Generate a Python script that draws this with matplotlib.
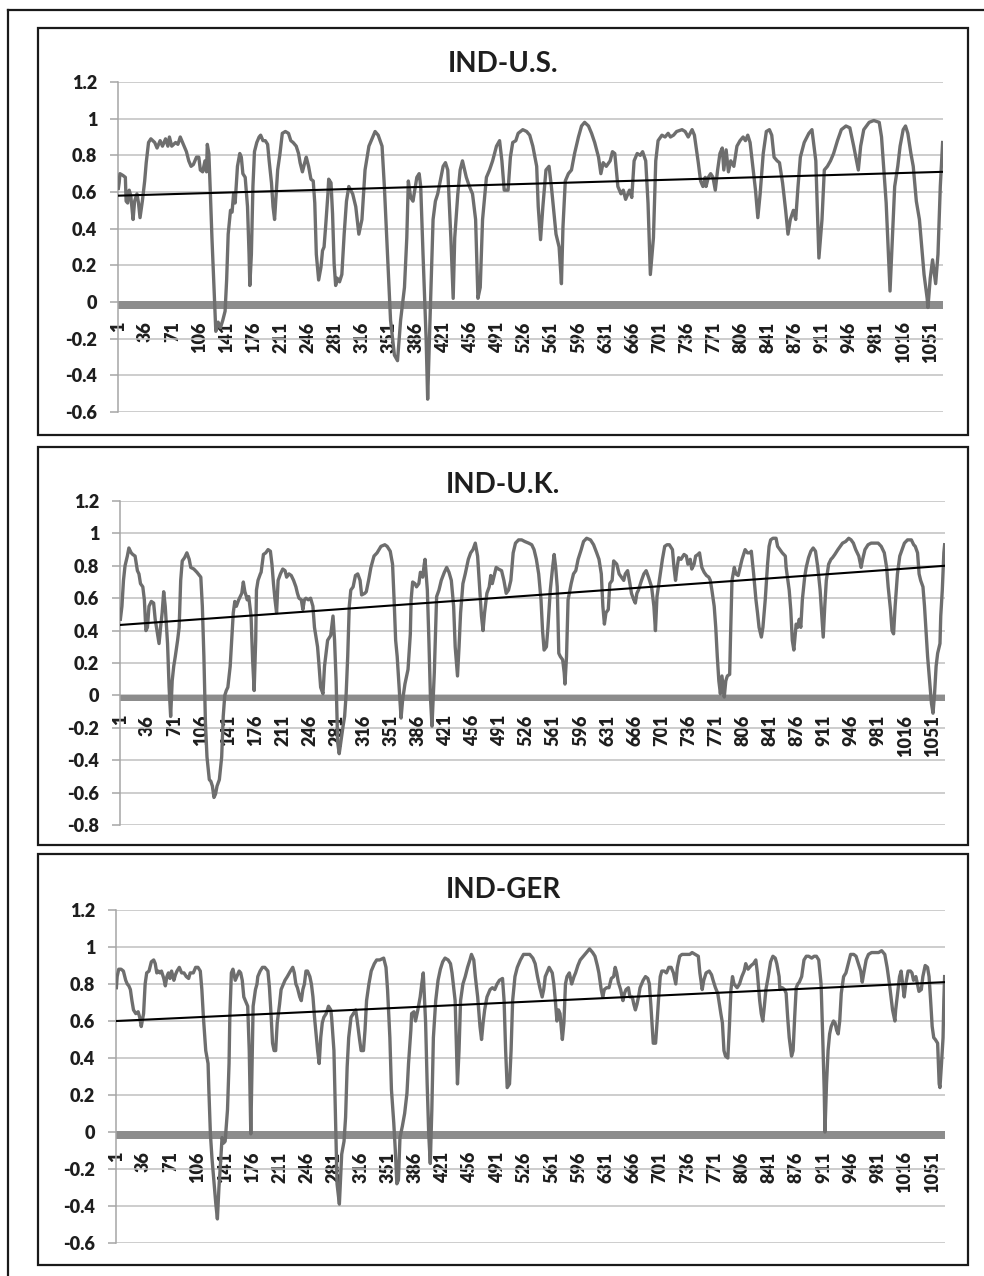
import numpy as np
import matplotlib
matplotlib.use("Agg")
import matplotlib.pyplot as plt
from matplotlib.lines import Line2D
from matplotlib.patches import Rectangle

plt.rcParams['font.family'] = ['Lato', 'DejaVu Sans']
plt.rcParams['axes.unicode_minus'] = False

# ---- data ----------------------------------------------------------------
n_obs = 1067
xtick_labels = [1, 36, 71, 106, 141, 176, 211, 246, 281, 316, 351, 386, 421,
                456, 491, 526, 561, 596, 631, 666, 701, 736, 771, 806, 841,
                876, 911, 946, 981, 1016, 1051]

titles = ["IND-U.S.", "IND-U.K.", "IND-GER"]
y_bottoms = [-0.6, -0.8, -0.6]
trend_start = [0.58, 0.435, 0.60]
trend_end = [0.71, 0.80, 0.81]

us_idx = [1, 2, 3, 7, 10, 11, 13, 15, 17, 20, 22, 25, 27, 29, 32, 35, 37, 40, 43, 48,
          51, 55, 58, 62, 65, 67, 70, 75, 78, 81, 85, 89, 92, 95, 98, 102, 105, 107, 110, 113,
          115, 116, 118, 120, 122, 125, 127, 130, 133, 136, 139, 141, 143, 146, 148, 150, 152, 155, 158, 160,
          162, 165, 168, 170, 171, 173, 175, 177, 180, 183, 185, 188, 191, 194, 196, 199, 201, 203, 205, 207,
          210, 213, 217, 221, 224, 227, 231, 234, 236, 239, 242, 244, 247, 250, 253, 255, 257, 260, 263, 265,
          267, 269, 272, 273, 276, 278, 280, 282, 284, 287, 290, 293, 296, 299,
          304, 308, 312, 316, 320, 325, 328, 333, 337, 342, 345, 349, 353, 358, 362, 366, 371, 374, 376, 379,
          382, 387, 390, 392, 395, 399, 401, 404, 408, 411, 414, 421, 424, 427, 431, 434, 436, 440, 443, 446,
          451, 455, 459, 463, 466, 469, 472, 477, 481, 485, 490, 494, 497, 500, 505, 508, 511, 515, 518, 524,
          529, 533, 537, 542, 544, 547, 550, 554, 558, 561, 567, 571, 574, 576, 579, 583, 587, 591, 596, 600,
          604, 609, 613, 617, 622, 625, 628, 632, 637, 640, 643, 647, 651, 654, 657, 662, 665, 668, 672, 676,
          679, 683, 686, 689,
          693, 696, 699, 704, 708, 712, 715, 719, 723, 730, 734, 738, 743, 746, 748, 751, 754, 757, 760, 761,
          764, 767, 770, 773, 776, 779, 782, 784, 787, 790, 793, 797, 801, 805, 809, 812, 815, 818, 822, 825,
          828, 831, 835, 839, 843, 846, 849, 853, 856, 860, 864, 867, 870, 874, 877, 880, 883, 888, 894, 898,
          903, 907, 911, 914, 918, 922, 926, 931, 936, 942, 947, 952, 958, 961, 965, 972, 978, 985, 988, 991,
          994, 997, 999, 1002, 1005, 1009, 1012, 1016, 1019, 1022, 1026, 1029, 1033, 1037, 1040, 1043, 1047, 1048, 1051, 1054,
          1058, 1061, 1064, 1067]
us_val = [0.62, 0.65, 0.70, 0.69, 0.68, 0.55, 0.54, 0.61, 0.58, 0.45, 0.55, 0.59, 0.54, 0.46, 0.55, 0.66, 0.76, 0.87, 0.89, 0.87,
          0.84, 0.88, 0.85, 0.89, 0.85, 0.90, 0.85, 0.87, 0.86, 0.90, 0.86, 0.82, 0.77, 0.74, 0.75, 0.79, 0.79, 0.72, 0.71, 0.77,
          0.71, 0.86, 0.81, 0.59, 0.35, 0.04, -0.16, -0.11, -0.14, -0.10, -0.05, 0.12, 0.37, 0.50, 0.49, 0.59, 0.54, 0.74, 0.81, 0.79,
          0.70, 0.68, 0.52, 0.26, 0.09, 0.26, 0.63, 0.82, 0.87, 0.90, 0.91, 0.88, 0.88, 0.86, 0.77, 0.65, 0.52, 0.45, 0.59, 0.72,
          0.81, 0.92, 0.93, 0.92, 0.88, 0.87, 0.85, 0.81, 0.76, 0.71, 0.76, 0.79, 0.74, 0.67, 0.66, 0.54, 0.26, 0.12, 0.19, 0.28,
          0.30, 0.41, 0.59, 0.67, 0.65, 0.48, 0.21, 0.09, 0.13, 0.11, 0.15, 0.37, 0.55, 0.63,
          0.59, 0.52, 0.37, 0.45, 0.72, 0.85, 0.88, 0.93, 0.91, 0.85, 0.63, 0.26, -0.10, -0.29, -0.32, -0.10, 0.08, 0.35, 0.66, 0.57,
          0.55, 0.68, 0.70, 0.63, 0.26, -0.20, -0.53, -0.10, 0.45, 0.55, 0.59, 0.74, 0.76, 0.72, 0.35, 0.02, 0.35, 0.59, 0.72, 0.77,
          0.68, 0.63, 0.59, 0.45, 0.02, 0.08, 0.45, 0.68, 0.72, 0.77, 0.85, 0.88, 0.77, 0.61, 0.61, 0.79, 0.87, 0.88, 0.92, 0.94,
          0.93, 0.91, 0.85, 0.74, 0.52, 0.34, 0.52, 0.72, 0.74, 0.63, 0.37, 0.30, 0.10, 0.41, 0.66, 0.70, 0.72, 0.81, 0.90, 0.96,
          0.98, 0.96, 0.92, 0.87, 0.79, 0.70, 0.76, 0.74, 0.77, 0.82, 0.81, 0.63, 0.59, 0.61, 0.56, 0.61, 0.57, 0.77, 0.81, 0.80,
          0.82, 0.77, 0.54, 0.15,
          0.35, 0.77, 0.88, 0.91, 0.90, 0.92, 0.90, 0.91, 0.93, 0.94, 0.93, 0.90, 0.94, 0.91, 0.85, 0.76, 0.66, 0.63, 0.68, 0.63,
          0.68, 0.70, 0.68, 0.61, 0.72, 0.81, 0.84, 0.72, 0.83, 0.71, 0.77, 0.74, 0.85, 0.88, 0.90, 0.88, 0.91, 0.87, 0.72, 0.61,
          0.46, 0.59, 0.81, 0.93, 0.94, 0.91, 0.79, 0.77, 0.76, 0.65, 0.50, 0.37, 0.45, 0.50, 0.45, 0.63, 0.79, 0.87, 0.92, 0.94,
          0.77, 0.24, 0.45, 0.72, 0.74, 0.77, 0.81, 0.88, 0.94, 0.96, 0.95, 0.85, 0.72, 0.85, 0.94, 0.98, 0.99, 0.98, 0.90, 0.72,
          0.54, 0.26, 0.06, 0.35, 0.63, 0.74, 0.85, 0.94, 0.96, 0.92, 0.81, 0.74, 0.55, 0.45, 0.30, 0.15, 0.02, -0.03, 0.13, 0.23,
          0.10, 0.26, 0.63, 0.87]

uk_idx = [1, 3, 5, 7, 10, 12, 15, 17, 20, 23, 25, 27, 30, 32, 34, 36, 38, 41, 44, 46,
          49, 51, 53, 55, 57, 59, 62, 64, 66, 68, 70, 72, 75, 77, 79, 81, 84, 87, 90, 92,
          96, 100, 105, 107, 109, 111, 113, 116, 118, 120, 122, 124, 126, 129, 132, 134, 136, 138, 140, 143,
          145, 147, 149, 151, 154, 156, 158, 160, 162, 164, 165, 167, 170, 172, 174, 176, 177, 179, 182, 183,
          186, 189, 192, 195, 197, 199, 201, 203, 205, 208, 211, 214, 216, 219, 222, 225, 228, 230, 232, 235,
          237, 239, 241, 244, 247, 250, 252, 254, 256, 258, 260, 263, 265, 267, 269, 273, 276, 278, 280, 282,
          284, 286, 289, 291, 293, 295, 297, 299,
          302, 305, 308, 311, 313, 317, 319, 322, 325, 329, 333, 338, 343, 346, 350, 353, 355, 357, 359, 361,
          364, 366, 369, 373, 376, 377, 379, 382, 384, 387, 389, 392, 394, 395, 398, 400, 402, 404, 407, 410,
          413, 416, 420, 423, 426, 429, 432, 434, 437, 439, 441, 444, 447, 451, 454, 457, 460, 463, 465, 468,
          470, 472, 475, 478, 480, 482, 484, 487, 490, 494, 497, 500, 503, 506, 509, 512, 516, 520, 524, 529,
          533, 536, 539, 542, 545, 547, 549, 552, 554, 557, 560, 562, 564, 566, 568, 570, 573, 575, 576, 578,
          580, 584, 587, 590, 593, 597, 600, 604, 609, 613, 617, 620, 623, 625, 627, 629, 632, 634, 637, 639,
          643, 646, 649, 652, 654, 657, 660, 662, 665, 667, 669, 671, 675, 678, 681, 684, 688,
          691, 693, 695, 698, 702, 705, 708, 711, 715, 717, 719, 721, 723, 726, 730, 733, 735, 738, 740, 743,
          745, 748, 750, 753, 756, 759, 762, 764, 766, 769, 771, 773, 775, 777, 779, 782, 784, 786, 789, 790,
          792, 795, 797, 800, 802, 805, 809, 812, 815, 817, 820, 823, 825, 827, 830, 832, 835, 838, 840, 842,
          845, 849, 851, 854, 857, 861, 862, 866, 868, 870, 872, 875, 877, 879, 881, 883, 886, 888, 891, 894,
          897, 900, 903, 906, 908, 910, 912, 914, 917, 920, 922, 925, 929, 932, 935, 939, 943, 946, 949, 952,
          956, 959, 961, 964, 968, 972, 976, 981, 985, 989, 992, 994, 997, 999, 1001, 1003, 1006, 1009, 1012, 1015,
          1019, 1024, 1027, 1029, 1032, 1034, 1036, 1039, 1041, 1043, 1045, 1048, 1050, 1052, 1054, 1056, 1058, 1061, 1062, 1064,
          1066, 1067]
uk_val = [0.47, 0.55, 0.71, 0.80, 0.86, 0.91, 0.88, 0.87, 0.86, 0.77, 0.75, 0.69, 0.67, 0.59, 0.40, 0.42, 0.55, 0.58, 0.57, 0.47,
          0.38, 0.32, 0.42, 0.51, 0.64, 0.55, 0.32, 0.05, -0.13, 0.09, 0.18, 0.24, 0.34, 0.42, 0.71, 0.83, 0.85, 0.88, 0.84, 0.79,
          0.78, 0.76, 0.73, 0.55, 0.24, -0.17, -0.38, -0.52, -0.53, -0.56, -0.63, -0.61, -0.56, -0.52, -0.38, -0.13, 0.00, 0.03, 0.05, 0.18,
          0.34, 0.51, 0.58, 0.55, 0.59, 0.61, 0.63, 0.70, 0.64, 0.61, 0.59, 0.61, 0.49, 0.22, 0.03, 0.34, 0.65, 0.71, 0.75, 0.76,
          0.87, 0.88, 0.90, 0.89, 0.81, 0.69, 0.59, 0.51, 0.71, 0.75, 0.78, 0.77, 0.73, 0.75, 0.74, 0.71, 0.67, 0.63, 0.60, 0.59,
          0.53, 0.59, 0.60, 0.59, 0.60, 0.55, 0.42, 0.36, 0.30, 0.18, 0.05, 0.01, 0.18, 0.26, 0.34, 0.37, 0.49, 0.34, 0.09, -0.29,
          -0.36, -0.29, -0.19, -0.13, 0.01, 0.24, 0.55, 0.65,
          0.67, 0.74, 0.75, 0.71, 0.62, 0.63, 0.64, 0.71, 0.79, 0.86, 0.88, 0.92, 0.93, 0.92, 0.89, 0.81, 0.59, 0.34, 0.24, 0.09,
          -0.14, -0.03, 0.07, 0.16, 0.38, 0.59, 0.70, 0.69, 0.67, 0.69, 0.76, 0.73, 0.81, 0.84, 0.65, 0.34, -0.01, -0.19, 0.14, 0.61,
          0.65, 0.71, 0.76, 0.79, 0.76, 0.71, 0.55, 0.30, 0.12, 0.30, 0.51, 0.69, 0.75, 0.84, 0.88, 0.90, 0.94, 0.86, 0.71, 0.49,
          0.40, 0.51, 0.63, 0.67, 0.74, 0.69, 0.73, 0.79, 0.78, 0.77, 0.71, 0.63, 0.65, 0.71, 0.88, 0.94, 0.96, 0.96, 0.95, 0.94,
          0.93, 0.90, 0.84, 0.75, 0.59, 0.40, 0.28, 0.30, 0.42, 0.65, 0.79, 0.87, 0.79, 0.67, 0.26, 0.24, 0.22, 0.14, 0.07, 0.24,
          0.59, 0.69, 0.75, 0.77, 0.84, 0.90, 0.95, 0.97, 0.96, 0.93, 0.88, 0.84, 0.75, 0.55, 0.44, 0.51, 0.53, 0.69, 0.71, 0.83,
          0.81, 0.75, 0.73, 0.71, 0.75, 0.77, 0.69, 0.63, 0.59, 0.57, 0.63, 0.65, 0.71, 0.75, 0.77, 0.73, 0.67,
          0.55, 0.40, 0.61, 0.71, 0.84, 0.92, 0.93, 0.93, 0.90, 0.79, 0.71, 0.79, 0.85, 0.84, 0.87, 0.86, 0.81, 0.84, 0.78, 0.81,
          0.86, 0.87, 0.88, 0.79, 0.76, 0.74, 0.73, 0.71, 0.65, 0.55, 0.42, 0.24, 0.09, 0.01, 0.12, -0.01, 0.09, 0.12, 0.13, 0.34,
          0.71, 0.79, 0.75, 0.74, 0.78, 0.84, 0.90, 0.88, 0.88, 0.89, 0.75, 0.59, 0.51, 0.42, 0.36, 0.42, 0.59, 0.81, 0.92, 0.96,
          0.97, 0.97, 0.92, 0.90, 0.88, 0.86, 0.79, 0.65, 0.53, 0.34, 0.28, 0.44, 0.42, 0.47, 0.42, 0.59, 0.73, 0.79, 0.85, 0.89,
          0.91, 0.89, 0.79, 0.65, 0.51, 0.36, 0.55, 0.71, 0.81, 0.84, 0.85, 0.87, 0.90, 0.92, 0.94, 0.95, 0.97, 0.96, 0.94, 0.90,
          0.86, 0.79, 0.84, 0.90, 0.93, 0.94, 0.94, 0.94, 0.92, 0.88, 0.79, 0.67, 0.53, 0.40, 0.38, 0.55, 0.75, 0.86, 0.90, 0.94,
          0.96, 0.96, 0.93, 0.92, 0.88, 0.75, 0.71, 0.67, 0.55, 0.40, 0.24, 0.07, -0.05, -0.11, 0.01, 0.18, 0.26, 0.32, 0.49, 0.65,
          0.88, 0.93]

ger_idx = [1, 2, 4, 7, 10, 13, 15, 17, 19, 21, 23, 26, 29, 31, 33, 36, 38, 40, 43, 46,
           49, 51, 53, 55, 57, 59, 62, 64, 66, 68, 70, 72, 75, 77, 79, 82, 85, 88, 91, 94,
           96, 100, 103, 106, 109, 111, 113, 116, 119, 120, 122, 124, 126, 129, 131, 133, 135, 137, 139, 141,
           144, 146, 147, 149, 151, 152, 154, 157, 159, 161, 163, 165, 167, 170, 172, 174, 176, 177, 180, 182,
           183, 186, 189, 192, 196, 198, 200, 202, 204, 206, 208, 211, 213, 216, 218, 221, 225, 228, 230, 232,
           234, 237, 239, 241, 243, 245, 247, 250, 252, 254, 256, 258, 260, 262, 264, 266, 268, 271, 274, 277,
           278, 281, 283, 285, 288, 290, 291, 294, 296, 298, 300, 303,
           306, 309, 311, 314, 316, 319, 321, 323, 326, 329, 333, 336, 340, 345, 348, 350, 353, 355, 358, 360,
           362, 364, 366, 369, 372, 375, 377, 380, 381, 384, 386, 389, 392, 394, 396, 399, 401, 403, 405, 407,
           409, 412, 415, 418, 421, 424, 428, 431, 433, 437, 440, 442, 444, 447, 450, 453, 456, 458, 461, 463,
           466, 469, 471, 473, 475, 478, 482, 485, 488, 491, 494, 498, 500, 502, 504, 507, 509, 511, 514, 517,
           521, 525, 528, 533, 537, 540, 543, 546, 549, 551, 553, 556, 558, 562, 564, 566, 568, 570, 572, 575,
           577, 579, 581, 584, 587, 590, 592, 595, 598, 602, 606, 610, 614, 617, 620, 622, 625, 627, 629, 632,
           635, 638, 641, 643, 645, 647, 650, 653, 655, 657, 660, 662, 665, 667, 669, 671, 673, 675, 679, 682,
           685, 687, 689, 692,
           695, 697, 699, 701, 703, 706, 709, 712, 715, 718, 721, 723, 726, 729, 732, 736, 739, 742, 746, 750,
           752, 755, 757, 760, 764, 767, 769, 772, 775, 779, 781, 783, 785, 788, 790, 792, 794, 796, 800, 803,
           806, 809, 811, 814, 818, 821, 824, 826, 829, 831, 833, 835, 837, 840, 843, 846, 849, 851, 854, 855,
           858, 861, 863, 865, 867, 870, 872, 874, 876, 878, 880, 883, 886, 889, 892, 896, 899, 902, 905, 908,
           910, 912, 913, 915, 917, 919, 921, 924, 926, 928, 930, 932, 934, 937, 940, 943, 946, 950, 953, 956,
           959, 961, 963, 966, 969, 973, 978, 982, 986, 990, 993, 996, 998, 1000, 1003, 1004, 1007, 1009, 1011, 1013,
           1015, 1017, 1020, 1023, 1025, 1027, 1030, 1032, 1034, 1037, 1039, 1042, 1045, 1047, 1049, 1051, 1053, 1055, 1058, 1060,
           1061, 1063, 1065, 1066, 1067]
ger_val = [0.78, 0.84, 0.88, 0.88, 0.87, 0.82, 0.80, 0.79, 0.77, 0.71, 0.66, 0.64, 0.65, 0.62, 0.57, 0.64, 0.80, 0.86, 0.87, 0.92,
           0.93, 0.91, 0.86, 0.87, 0.86, 0.87, 0.83, 0.79, 0.84, 0.86, 0.83, 0.87, 0.82, 0.85, 0.87, 0.89, 0.86, 0.86, 0.84, 0.83,
           0.86, 0.86, 0.89, 0.89, 0.87, 0.77, 0.62, 0.44, 0.37, 0.23, -0.01, -0.14, -0.24, -0.39, -0.47, -0.30, -0.17, -0.03, -0.06, -0.05,
           0.12, 0.37, 0.62, 0.86, 0.88, 0.86, 0.82, 0.85, 0.87, 0.86, 0.82, 0.73, 0.71, 0.68, 0.44, -0.01, 0.44, 0.68, 0.77, 0.80,
           0.84, 0.87, 0.89, 0.89, 0.87, 0.78, 0.64, 0.48, 0.44, 0.44, 0.59, 0.69, 0.77, 0.80, 0.82, 0.84, 0.87, 0.89, 0.86, 0.80,
           0.78, 0.73, 0.71, 0.77, 0.80, 0.87, 0.87, 0.84, 0.80, 0.73, 0.62, 0.53, 0.44, 0.37, 0.51, 0.59, 0.62, 0.64, 0.68, 0.66,
           0.62, 0.44, 0.08, -0.28, -0.39, -0.21, -0.12, -0.05, 0.08, 0.35, 0.51, 0.62,
           0.64, 0.66, 0.60, 0.50, 0.44, 0.44, 0.55, 0.71, 0.80, 0.87, 0.91, 0.93, 0.93, 0.94, 0.89, 0.77, 0.51, 0.23, 0.05, -0.10,
           -0.28, -0.26, -0.03, 0.03, 0.10, 0.21, 0.37, 0.55, 0.64, 0.65, 0.60, 0.66, 0.73, 0.80, 0.86, 0.59, 0.26, -0.01, -0.17, 0.12,
           0.51, 0.71, 0.82, 0.88, 0.92, 0.94, 0.93, 0.91, 0.86, 0.71, 0.26, 0.44, 0.71, 0.80, 0.84, 0.89, 0.93, 0.96, 0.93, 0.84,
           0.73, 0.57, 0.50, 0.59, 0.66, 0.73, 0.77, 0.78, 0.77, 0.80, 0.82, 0.83, 0.71, 0.44, 0.24, 0.26, 0.44, 0.71, 0.84, 0.89,
           0.93, 0.96, 0.96, 0.96, 0.94, 0.91, 0.84, 0.78, 0.73, 0.77, 0.84, 0.87, 0.89, 0.86, 0.80, 0.71, 0.60, 0.66, 0.64, 0.50,
           0.59, 0.80, 0.84, 0.86, 0.80, 0.84, 0.86, 0.90, 0.93, 0.95, 0.97, 0.99, 0.97, 0.95, 0.90, 0.86, 0.77, 0.73, 0.77, 0.78,
           0.78, 0.83, 0.84, 0.89, 0.86, 0.81, 0.77, 0.71, 0.75, 0.77, 0.78, 0.73, 0.73, 0.69, 0.66, 0.69, 0.73, 0.78, 0.82, 0.84,
           0.83, 0.80, 0.68, 0.48,
           0.48, 0.60, 0.73, 0.84, 0.87, 0.87, 0.86, 0.89, 0.89, 0.86, 0.80, 0.89, 0.95, 0.96, 0.96, 0.96, 0.96, 0.97, 0.96, 0.95,
           0.86, 0.77, 0.82, 0.86, 0.87, 0.85, 0.82, 0.78, 0.75, 0.64, 0.59, 0.44, 0.41, 0.40, 0.57, 0.77, 0.84, 0.80, 0.78, 0.80,
           0.84, 0.87, 0.91, 0.88, 0.90, 0.91, 0.93, 0.86, 0.71, 0.64, 0.60, 0.68, 0.77, 0.84, 0.92, 0.95, 0.94, 0.91, 0.84, 0.77,
           0.78, 0.77, 0.75, 0.62, 0.51, 0.41, 0.44, 0.62, 0.78, 0.80, 0.81, 0.84, 0.93, 0.95, 0.95, 0.94, 0.95, 0.95, 0.93, 0.80,
           0.53, 0.23, 0.00, 0.26, 0.44, 0.53, 0.57, 0.60, 0.59, 0.55, 0.53, 0.60, 0.75, 0.84, 0.86, 0.91, 0.96, 0.96, 0.95, 0.91,
           0.87, 0.81, 0.86, 0.93, 0.96, 0.97, 0.97, 0.97, 0.98, 0.96, 0.89, 0.80, 0.73, 0.66, 0.60, 0.66, 0.77, 0.84, 0.87, 0.80,
           0.73, 0.80, 0.87, 0.87, 0.86, 0.82, 0.84, 0.80, 0.76, 0.77, 0.84, 0.90, 0.89, 0.84, 0.71, 0.57, 0.51, 0.50, 0.48, 0.26,
           0.24, 0.37, 0.51, 0.71, 0.84]

series_idx = [us_idx, uk_idx, ger_idx]
series_val = [us_val, uk_val, ger_val]

# ---- layout (figure fractions) --------------------------------------------
W, H = 984, 1276
# plot areas: left px, right px, top px (y=1.2), bottom px (y=min)
plot_px = [(118, 943, 82, 412), (120, 945, 501, 825), (116, 945, 910, 1243)]
# panel frames: top px, bottom px
frame_px = [(28, 435), (447, 845), (854, 1265)]
title_base_px = [72, 493, 898]

LINE_GREY = '#6e6e6e'
GRID_GREY = '#c0c0c0'
AXIS_GREY = '#a6a6a6'
TEXT = '#1e1e1e'
TICK_WEIGHT = 'heavy'


def fmt(v):
    s = f"{round(v, 1):g}"
    return "0" if s == "-0" else s


fig = plt.figure(figsize=(W / 100, H / 100), dpi=100)
fig.patch.set_facecolor('white')

for k in range(3):
    l, r, t, b = plot_px[k]
    ax = fig.add_axes([l / W, 1 - b / H, (r - l) / W, (b - t) / H])
    ymin = y_bottoms[k]
    ax.set_xlim(0.5, n_obs + 0.5)
    ax.set_ylim(ymin, 1.2)

    for side in ('top', 'right'):
        ax.spines[side].set_visible(False)
    ax.spines['left'].set_color(AXIS_GREY)
    ax.spines['left'].set_linewidth(1.1)
    ax.spines['bottom'].set_position(('data', 0))
    ax.spines['bottom'].set_color('none')

    ax.tick_params(axis='y', direction='out', length=6, width=1.1, color=AXIS_GREY, pad=9)
    ax.tick_params(axis='x', length=0, pad=14, labelrotation=90)

    yt = np.round(np.arange(ymin, 1.2001, 0.2), 1)
    ax.set_yticks(yt)
    ax.set_yticklabels([fmt(v) for v in yt], fontsize=13, fontweight=TICK_WEIGHT, color=TEXT)
    ax.yaxis.grid(True, color=GRID_GREY, lw=1.1)
    ax.set_axisbelow(True)

    ax.set_xticks(xtick_labels)
    ax.set_xticklabels([str(v) for v in xtick_labels], rotation=90, fontsize=13,
                       fontweight=TICK_WEIGHT, color=TEXT, ha='center', va='top')

    # thick grey horizontal axis at zero
    ax.axhspan(-0.037, 0.003, color='#8c8c8c', lw=0, zorder=1.5)

    ax.plot(series_idx[k], series_val[k], color=LINE_GREY, lw=2.4, zorder=3,
            solid_joinstyle='round')
    ax.plot([1, n_obs], [trend_start[k], trend_end[k]], color='black', lw=1.5, zorder=4)

    fig.text(503 / W, 1 - title_base_px[k] / H, titles[k], ha='center', va='baseline',
             fontsize=20, fontweight='bold', color=TEXT)

    ft, fb = frame_px[k]
    fig.patches.append(Rectangle((38 / W, 1 - fb / H), 930 / W, (fb - ft) / H,
                                 transform=fig.transFigure, fill=False,
                                 edgecolor='#1a1a1a', lw=1.6))

# outer frame (only top and left edges fall inside the picture)
fig.lines.append(Line2D([8 / W, 1.0], [1 - 10 / H, 1 - 10 / H], transform=fig.transFigure,
                        color='#1a1a1a', lw=1.6))
fig.lines.append(Line2D([8 / W, 8 / W], [1 - 10 / H, 0.0], transform=fig.transFigure,
                        color='#1a1a1a', lw=1.6))

fig.savefig('out.png', dpi=100)
